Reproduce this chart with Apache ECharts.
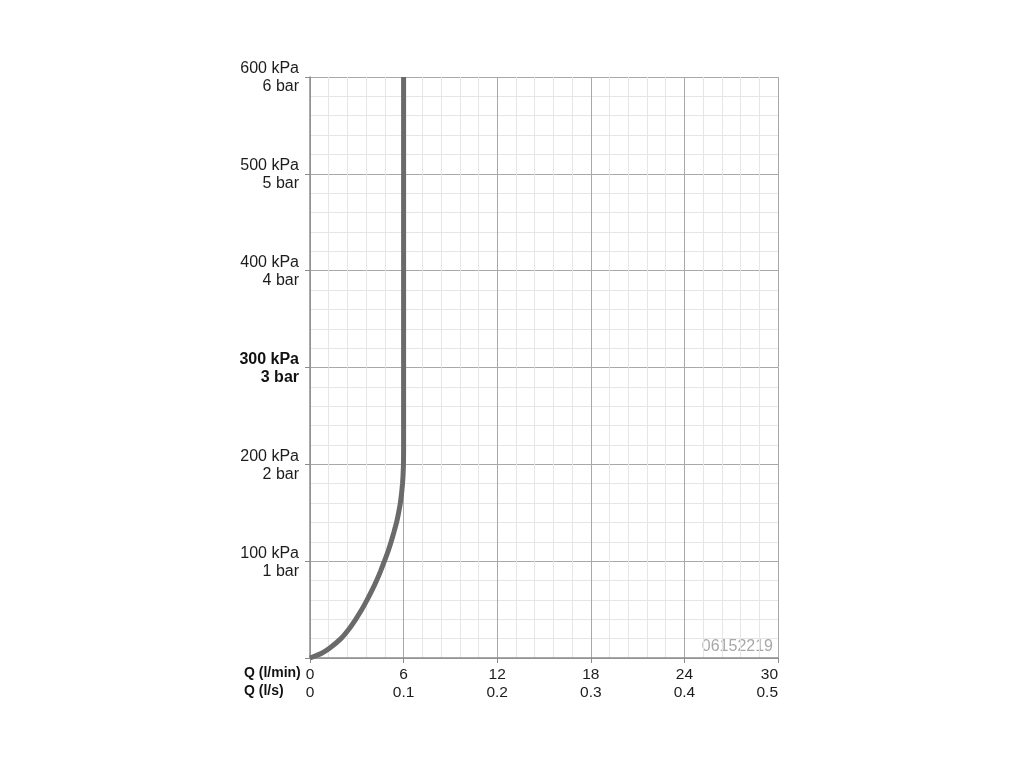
<!DOCTYPE html>
<html>
<head>
<meta charset="utf-8">
<script src="https://cdn.jsdelivr.net/npm/echarts@6/dist/echarts.min.js"></script>
<style>
html,body{margin:0;padding:0;background:#fff;}
#chart{width:1024px;height:768px;}
</style>
</head>
<body>
<div id="chart"></div>
<script>
// Flow (l/min) vs pressure (kPa)
const flowLpm = [0, 0.75, 1.25, 1.98, 2.5, 2.93, 3.32, 3.66, 3.98, 4.27, 4.53, 4.77, 5.0, 5.2, 5.38, 5.55, 5.68, 5.79, 5.87, 5.93, 5.97, 5.99, 6.0, 6.0];
const pressureKpa = [0, 5, 10, 20, 30, 40, 50, 60, 70, 80, 90, 100, 110, 120, 130, 140, 150, 160, 170, 180, 190, 200, 215, 600];
const xTicksLpm = ['0', '6', '12', '18', '24', '30'];
const xTicksLps = ['0', '0.1', '0.2', '0.3', '0.4', '0.5'];
const yTicksKpa = ['', '100 kPa', '200 kPa', '300 kPa', '400 kPa', '500 kPa', '600 kPa'];
const yTicksBar = ['', '1 bar', '2 bar', '3 bar', '4 bar', '5 bar', '6 bar'];
const boldTick = 300;
const xNames = ['Q (l/min)', 'Q (l/s)'];
const codeText = '06152219';

const FONT = '"Liberation Sans", Arial, Helvetica, sans-serif';
const chart = echarts.init(document.getElementById('chart'));
const seriesData = flowLpm.map((q, i) => [q, pressureKpa[i]]);

chart.setOption({
  animation: false,
  backgroundColor: '#fff',
  grid: { left: 310, right: 246, top: 77, bottom: 110, containLabel: false },
  xAxis: {
    type: 'value', min: 0, max: 30, interval: 6,
    axisLine: { show: true, lineStyle: { color: '#8c8c8c', width: 1.5 } },
    axisTick: { show: true, length: 5, lineStyle: { color: '#8c8c8c' } },
    splitLine: { show: true, lineStyle: { color: '#a8a8a8', width: 1 } },
    minorTick: { show: false, splitNumber: 5 },
    minorSplitLine: { show: true, lineStyle: { color: '#e6e6e6', width: 1 } },
    axisLabel: {
      margin: 8,
      fontFamily: FONT, fontSize: 15.5, color: '#1c1c1c', lineHeight: 18,
      alignMaxLabel: 'right',
      formatter: function (v) {
        const i = Math.round(v / 6);
        return xTicksLpm[i] + '\n' + xTicksLps[i];
      }
    }
  },
  yAxis: {
    type: 'value', min: 0, max: 600, interval: 100,
    axisLine: { show: true, lineStyle: { color: '#8c8c8c', width: 1.5 } },
    axisTick: { show: true, length: 5, lineStyle: { color: '#8c8c8c' } },
    splitLine: { show: true, lineStyle: { color: '#a8a8a8', width: 1 } },
    minorTick: { show: false, splitNumber: 5 },
    minorSplitLine: { show: true, lineStyle: { color: '#e6e6e6', width: 1 } },
    axisLabel: {
      margin: 11,
      fontFamily: FONT, fontSize: 16, color: '#1c1c1c', lineHeight: 18,
      formatter: function (v) {
        const i = Math.round(v / 100);
        if (!yTicksKpa[i]) return '';
        const s = v === boldTick ? 'b' : 'n';
        return '{' + s + '|' + yTicksKpa[i] + '}\n{' + s + '|' + yTicksBar[i] + '}';
      },
      rich: {
        n: { fontFamily: FONT, fontSize: 16, color: '#1c1c1c', lineHeight: 18, align: 'right', padding: [2, 0, 0, 0] },
        b: { fontFamily: FONT, fontSize: 16, color: '#111', fontWeight: 'bold', lineHeight: 18, align: 'right', padding: [2, 0, 0, 0] }
      }
    }
  },
  graphic: [
    {
      type: 'text', left: 244, top: 666,
      style: { text: xNames[0], font: 'bold 14px ' + FONT, fill: '#111' }
    },
    {
      type: 'text', left: 244, top: 684,
      style: { text: xNames[1], font: 'bold 14px ' + FONT, fill: '#111' }
    },
    {
      type: 'text', right: 251, top: 639,
      style: { text: codeText, font: '16px ' + FONT, fill: '#a8a8a8' }
    }
  ],
  series: [{
    type: 'line',
    data: seriesData,
    showSymbol: false,
    smooth: 0.15,
    lineStyle: { color: '#6a6a6a', width: 5 },
    z: 5
  }]
});
</script>
</body>
</html>
